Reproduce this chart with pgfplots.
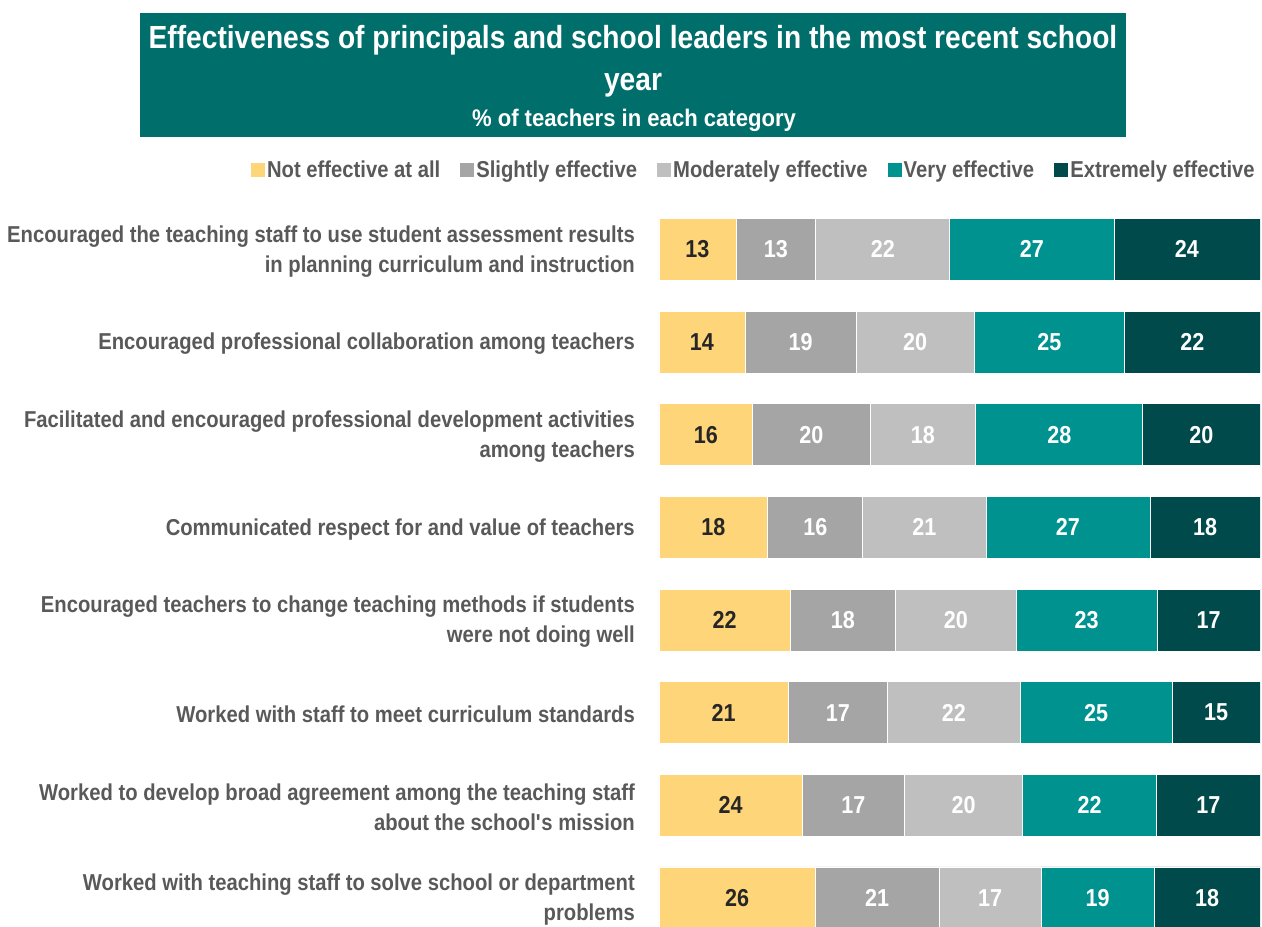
\documentclass[border=0pt]{standalone}
\usepackage{pgfplots}
\pgfplotsset{compat=1.18}
\usepackage{pgfplotstable}
\usepackage{fontspec}
\setmainfont{Liberation Sans}[FakeStretch=0.88]
\newfontfamily\titlefont{Liberation Sans}[FakeStretch=0.88]
\newfontfamily\subfont{Liberation Sans}[FakeStretch=0.92]
\definecolor{cNot}{HTML}{FFD57A}
\definecolor{cSl}{HTML}{A5A5A5}
\definecolor{cMod}{HTML}{BFBFBF}
\definecolor{cVery}{HTML}{00928F}
\definecolor{cExt}{HTML}{004A4B}
\definecolor{cTitle}{HTML}{006E6A}
\definecolor{cText}{HTML}{595959}
\definecolor{cDark}{HTML}{262626}

% a: Not effective at all, b: Slightly, c: Moderately, d: Very, e: Extremely
\pgfplotstableread{
row a    b    c    d    e    la lb lc ld le
0   12.8 13.3 22.3 27.3 24.3 13 13 22 27 24
1   14.3 18.5 19.6 25.1 22.5 14 19 20 25 22
2   15.6 19.5 17.6 27.8 19.5 16 20 18 28 20
3   18.1 15.8 20.5 27.3 18.3 18 16 21 27 18
4   21.8 17.6 20.0 23.5 17.1 22 18 20 23 17
5   21.5 16.5 22.1 25.3 14.6 21 17 22 25 15
6   23.8 17.1 19.6 22.3 17.2 24 17 20 22 17
7   26.0 20.6 17.0 18.8 17.6 26 21 17 19 18
}\data

\pgfplotsset{
  common/.style={
    at={(659pt,-17.3pt)}, anchor=south west,
    scale only axis, width=601pt, height=741.2pt,
    xmin=0, xmax=100, ymin=-0.5, ymax=7.5, y dir=reverse,
  },
  lab/.style={draw=none, mark=none, nodes near coords, point meta=explicit symbolic,
    every node near coord/.style={anchor=center, inner sep=0pt, font=\bfseries\fontsize{24.5}{28}\selectfont, text=#1}},
}

\begin{document}
\begin{tikzpicture}
\path[use as bounding box] (0pt,0pt) rectangle (1262pt,927pt);
\begin{axis}[
  common,
  xbar stacked, bar width=62pt,
  axis line style={draw=none}, xtick=\empty, ytick={0,...,7},
  major tick length=0pt,
  yticklabels={{Encouraged the teaching staff to use student assessment results\\in planning curriculum and instruction},
    {Encouraged professional collaboration among teachers},
    {Facilitated and encouraged professional development activities\\among teachers},
    {Communicated respect for and value of teachers},
    {Encouraged teachers to change teaching methods if students\\were not doing well},
    {Worked with staff to meet curriculum standards},
    {Worked to develop broad agreement among the teaching staff\\about the school\textquotesingle s mission},
    {Worked with teaching staff to solve school or department\\problems}},
  yticklabel style={align=right, font=\bfseries\fontsize{23}{30}\selectfont, text=cText, inner sep=0pt, xshift=-24pt, yshift=-2pt},
  legend columns=5,
  legend style={at={(0.995,1.0448)}, anchor=east, draw=none, fill=none, inner sep=0pt,
    font=\bfseries\fontsize{23}{26}\selectfont, text=cText,
    /tikz/every even column/.append style={column sep=18pt}},
  legend image code/.code={\fill[#1, draw=none] (-4pt,-7pt) rectangle (10pt,7pt);},
  legend cell align=left,
]
\addplot[fill=cNot, draw=white, line width=0.8pt] table[x=a,y=row]{\data};
\addlegendentry{Not effective at all}
\addplot[fill=cSl, draw=white, line width=0.8pt] table[x=b,y=row]{\data};
\addlegendentry{Slightly effective}
\addplot[fill=cMod, draw=white, line width=0.8pt] table[x=c,y=row]{\data};
\addlegendentry{Moderately effective}
\addplot[fill=cVery, draw=white, line width=0.8pt] table[x=d,y=row]{\data};
\addlegendentry{Very effective}
\addplot[fill=cExt, draw=white, line width=0.8pt] table[x=e,y=row]{\data};
\addlegendentry{Extremely effective}
\end{axis}
\begin{axis}[common, hide axis]
\addplot[lab=cDark] table[x expr=\thisrow{a}/2, y=row, meta=la]{\data};
\addplot[lab=white] table[x expr=\thisrow{a}+\thisrow{b}/2, y=row, meta=lb]{\data};
\addplot[lab=white] table[x expr=\thisrow{a}+\thisrow{b}+\thisrow{c}/2, y=row, meta=lc]{\data};
\addplot[lab=white] table[x expr=\thisrow{a}+\thisrow{b}+\thisrow{c}+\thisrow{d}/2, y=row, meta=ld]{\data};
\addplot[lab=white] table[x expr=\thisrow{a}+\thisrow{b}+\thisrow{c}+\thisrow{d}+\thisrow{e}/2, y=row, meta=le]{\data};
\end{axis}
\fill[cTitle] (140pt,790pt) rectangle (1126pt,914pt);
\node[anchor=base, text=white, inner sep=0pt, font=\titlefont\bfseries\fontsize{32}{40}\selectfont] at (633pt,878pt) {Effectiveness of principals and school leaders in the most recent school};
\node[anchor=base, text=white, inner sep=0pt, font=\titlefont\bfseries\fontsize{32}{40}\selectfont] at (633pt,836pt) {year};
\node[anchor=base, text=white, inner sep=0pt, font=\subfont\bfseries\fontsize{24}{28}\selectfont] at (634pt,800pt) {\% of teachers in each category};
\end{tikzpicture}
\end{document}
